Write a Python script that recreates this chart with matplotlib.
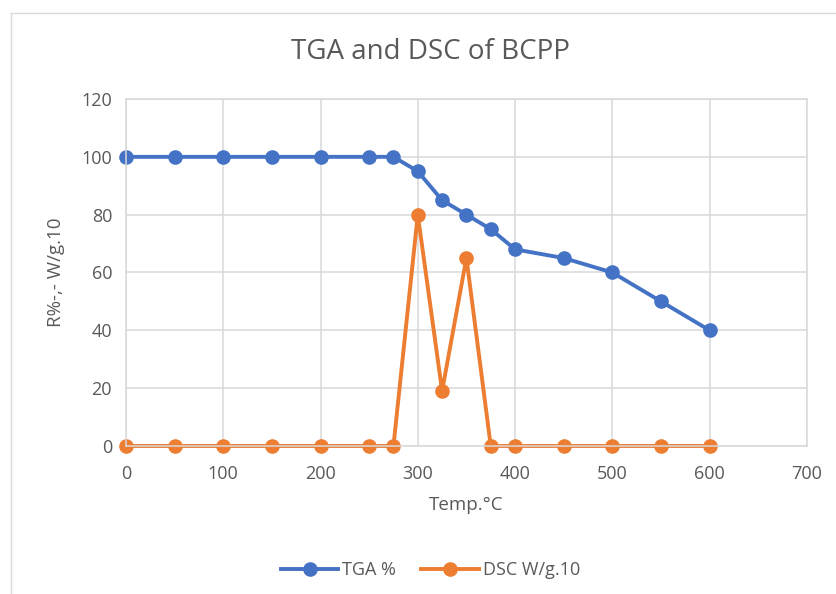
import matplotlib.pyplot as plt
from matplotlib.lines import Line2D

plt.rcParams['font.family'] = ['Open Sans', 'DejaVu Sans']

temp = [0, 50, 100, 150, 200, 250, 275, 300, 325, 350, 375, 400, 450, 500, 550, 600]
tga = [100, 100, 100, 100, 100, 100, 100, 95, 85, 80, 75, 68, 65, 60, 50, 40]
dsc = [0, 0, 0, 0, 0, 0, 0, 80, 19, 65, 0, 0, 0, 0, 0, 0]

blue = "#4472C4"
orange = "#ED7D31"
grey = "#595959"
gridc = "#D9D9D9"

fig = plt.figure(figsize=(8.37, 5.94), dpi=100)
ax = fig.add_axes([0.1505, 0.2492, 0.8135, 0.5841])

ax.plot(temp, tga, color=blue, lw=2.8, marker="o", ms=9.5, label="TGA %")
ax.plot(temp, dsc, color=orange, lw=2.8, marker="o", ms=9.5, label="DSC W/g.10")

ax.set_xlim(0, 700)
ax.set_ylim(0, 120)
ax.set_xticks(range(0, 701, 100))
ax.set_yticks(range(0, 121, 20))
ax.grid(True, color=gridc, lw=1.1)
ax.set_axisbelow(True)
for s in ax.spines.values():
    s.set_color(gridc)
    s.set_linewidth(1.1)
ax.tick_params(length=0, colors=grey, labelsize=13)
ax.tick_params(axis="x", pad=14)
ax.tick_params(axis="y", pad=10)
for m in ax.lines:
    m.set_clip_on(False)

ax.set_xlabel("Temp.°C", color=grey, fontsize=13.5, labelpad=9)
ax.set_ylabel("R%-,- W/g.10", color=grey, fontsize=13.5, labelpad=12)
fig.text(0.514, 0.912, "TGA and DSC of BCPP", ha="center", va="center",
         color=grey, fontsize=20)

fig.legend(loc="center", bbox_to_anchor=(0.514, 0.04), ncol=2, frameon=False,
           fontsize=13, labelcolor=grey, handlelength=3.2, columnspacing=1.4,
           handletextpad=0.2)

# chart area border (left and top edges visible)
fig.add_artist(Line2D([11 / 837, 11 / 837], [0, 1 - 13 / 594], transform=fig.transFigure,
                      color=gridc, lw=1))
fig.add_artist(Line2D([11 / 837, 1], [1 - 13 / 594, 1 - 13 / 594], transform=fig.transFigure,
                      color=gridc, lw=1))

fig.savefig("out.png", dpi=100)
